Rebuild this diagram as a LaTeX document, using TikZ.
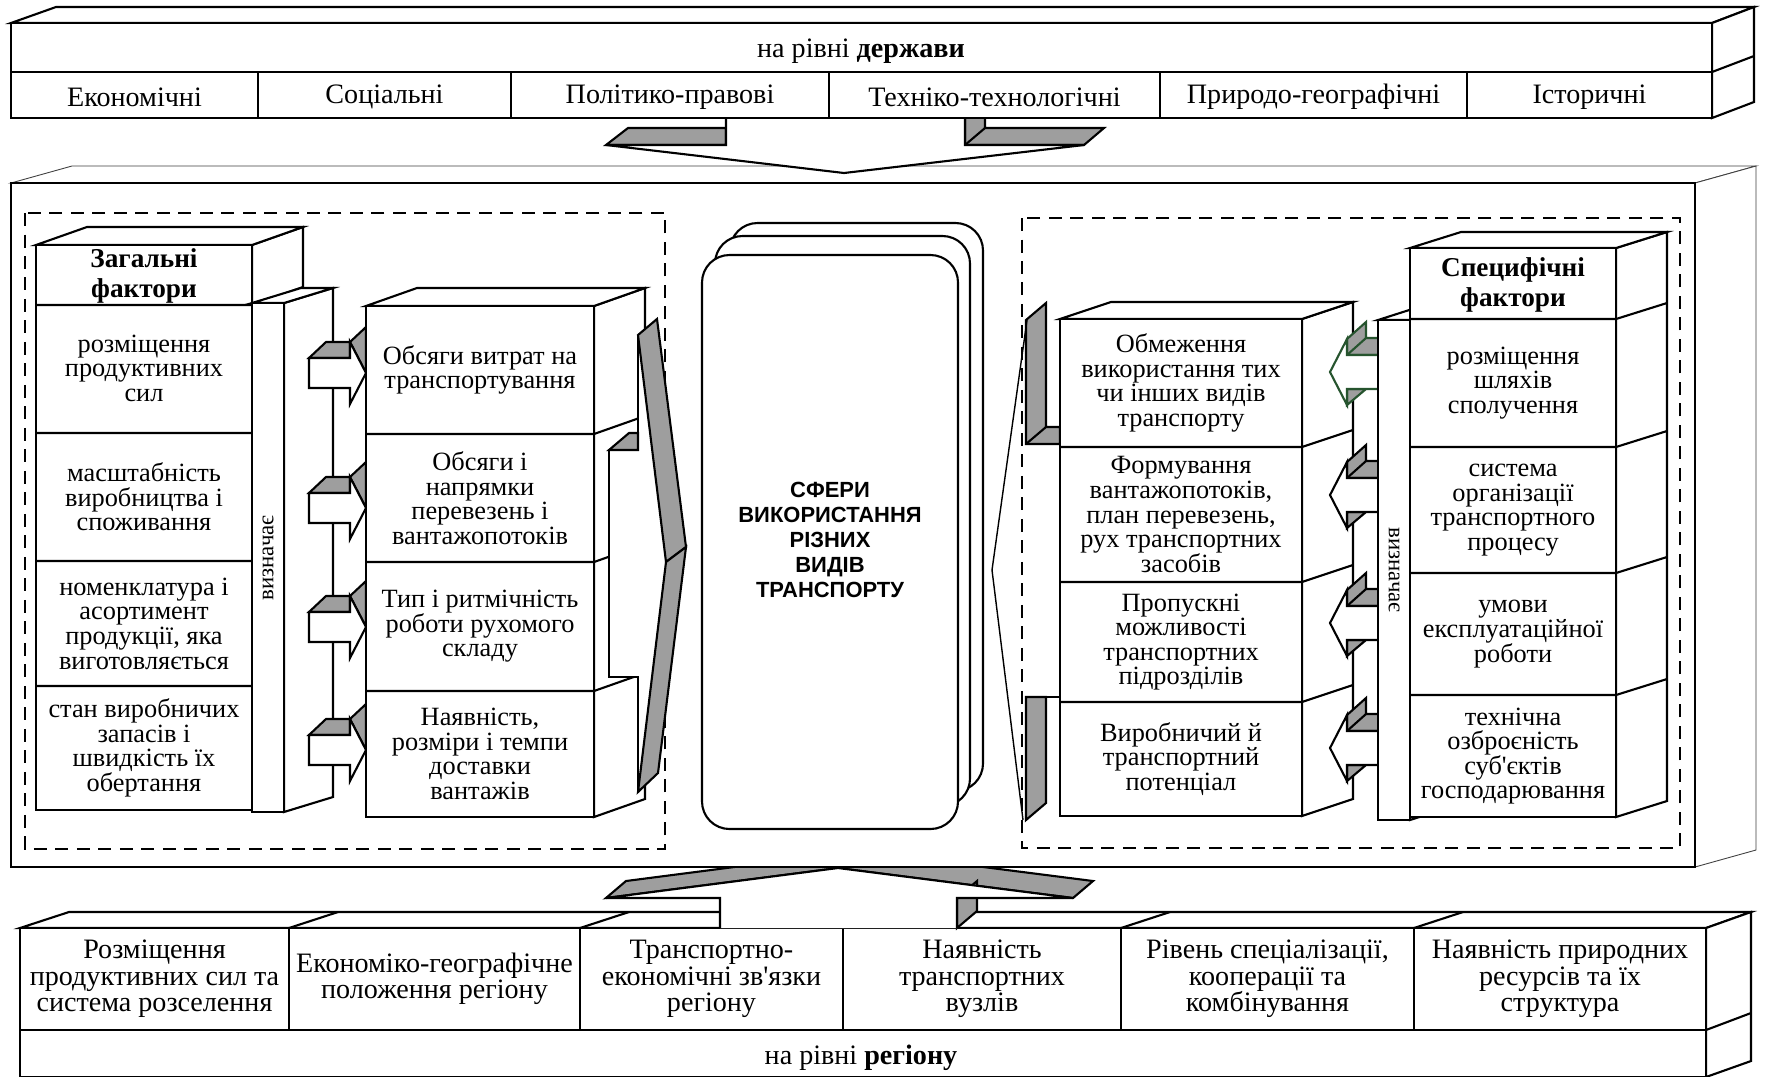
\documentclass[tikz,border=0pt]{standalone}
\usepackage{fontspec}
\setmainfont{Liberation Serif}
\newfontfamily\heavysans{Liberation Sans}
\usetikzlibrary{calc}
\definecolor{shade}{RGB}{158,158,158}
\definecolor{edgegreen}{RGB}{38,84,46}
\newcommand\cellfont{\fontsize{15}{14}\selectfont}
\newcommand\barfont{\fontsize{16}{15}\selectfont}
\newcommand\headfont{\fontsize{15.5}{17}\selectfont\bfseries}
\newcommand\corefont{\heavysans\bfseries\fontsize{12.5}{14.2}\selectfont}
\newcommand\sidefont{\fontsize{13}{13}\selectfont}
% 3D block: front rectangle (#1,#2)-(#3,#4), depth vector (#5,#6)
\newcommand\block[6]{%
  \filldraw[face] ({#3},{#2}) -- ({#3+#5},{#2+#6}) -- ({#3+#5},{#4+#6}) -- ({#3},{#4}) -- cycle;
  \filldraw[face] ({#1},{#2}) -- ({#1+#5},{#2+#6}) -- ({#3+#5},{#2+#6}) -- ({#3},{#2}) -- cycle;
  \filldraw[face] ({#1},{#2}) rectangle ({#3},{#4});
}
\begin{document}
\begin{tikzpicture}[x=0.02cm,y=-0.02cm,
  ln/.style={line width=1.2pt,line join=miter},
  face/.style={ln,fill=white},
  grey/.style={ln,fill=shade},
  thinface/.style={line width=0.5pt,draw=black!75,fill=white},
  cell/.style={align=center,font=\cellfont,inner sep=0pt},
  bar/.style={align=center,font=\barfont,inner sep=0pt},
  head/.style={align=center,font=\headfont,inner sep=0pt},
  dashbox/.style={ln,dash pattern=on 0.26cm off 0.17cm}]
\fill[white] (0,0) rectangle (1770,1076);
\clip (0,0) rectangle (1770,1076);

% ---------- regional level bar (bottom) ----------
\filldraw[face] (20,928) -- (69,912) -- (1751,912) -- (1706,928) -- cycle;
\filldraw[face] (1706,928) -- (1751,912) -- (1751,1061) -- (1706,1077) -- cycle;
\draw[ln] (1706,1030) -- (1751,1013);
\filldraw[face] (20,928) rectangle (1706,1077);
\draw[ln] (20,1030) -- (1706,1030);
\foreach \xx in {289,580,843,1121,1414} {
  \draw[ln] (\xx,928) -- (\xx,1030);
  \draw[ln] (\xx,928) -- ++(49,-16);
}
\node[bar] (r1) at (154.5,979) {Розміщення\\продуктивних сил та\\система розселення};
\node[bar] (r2) at (434.5,979) {Економіко-географічне\\положення регіону};
\node[bar] (r3) at (711.5,979) {Транспортно-\\економічні зв\textquotesingle язки\\регіону};
\node[bar] (r4) at (982,979) {Наявність\\транспортних\\вузлів};
\node[bar] (r5) at (1267.5,979) {Рівень спеціалізації,\\кооперації та\\комбінування};
\node[bar] (r6) at (1560,979) {Наявність природних\\ресурсів та їх\\структура};
\node[bar] (region) at (861,1058) {на рівні \textbf{регіону}};

% ---------- upward block arrow into the central frame ----------
\filldraw[grey] (606,898) -- (626,881) -- (858,851) -- (838,868) -- cycle;
\filldraw[grey] (838,868) -- (858,851) -- (1093,881) -- (1073,898) -- cycle;
\filldraw[grey] (957,898) -- (957,928) -- (977,911) -- (977,881) -- cycle;
\fill[white] (720,928) -- (720,898) -- (606,898) -- (838,868) -- (1073,898) -- (957,898) -- (957,928) -- cycle;
\draw[ln] (720,928) -- (720,898) -- (606,898) -- (838,868) -- (1073,898) -- (957,898) -- (957,928);

% ---------- central frame ----------
\filldraw[thinface] (11,183) -- (72,166) -- (1756,166) -- (1695,183) -- cycle;
\filldraw[thinface] (1695,183) -- (1756,166) -- (1756,850) -- (1695,867) -- cycle;
\filldraw[face] (11,183) rectangle (1695,867);

% ---------- downward block arrow from the state level ----------
\filldraw[grey] (606,145) -- (628,128) -- (726,128) -- (726,145) -- cycle;
\filldraw[grey] (965,110) -- (965,145) -- (1084,145) -- (1104,128) -- (985,128) -- (985,110) -- cycle;
\draw[ln] (965,145) -- (985,128);
\fill[white] (726,110) -- (726,145) -- (606,145) -- (844,173) -- (1084,145) -- (965,145) -- (965,110) -- cycle;
\draw[ln] (726,110) -- (726,145) -- (606,145) -- (844,173) -- (1084,145) -- (965,145) -- (965,110);

% ---------- state level bar (top) ----------
\filldraw[face] (11,23) -- (56,7) -- (1754,7) -- (1712,23) -- cycle;
\filldraw[face] (1712,23) -- (1754,7) -- (1754,102) -- (1712,118) -- cycle;
\draw[ln] (1712,72) -- (1754,56);
\filldraw[face] (11,23) rectangle (1712,118);
\draw[ln] (11,72) -- (1712,72);
\foreach \xx in {258,511,829,1160,1467} \draw[ln] (\xx,72) -- (\xx,118);
\node[bar] (state) at (861,51) {на рівні \textbf{держави}};
\node[bar] (s1) at (134.5,97) {Економічні};
\node[bar] (s2) at (384.5,97) {Соціальні};
\node[bar] (s3) at (670,97) {Політико-правові};
\node[bar] (s4) at (994.5,97) {Техніко-технологічні};
\node[bar] (s5) at (1313.5,97) {Природо-географічні};
\node[bar] (s6) at (1589.5,97) {Історичні};

% ---------- dashed groups ----------
\draw[dashbox] (25,213) rectangle (665,849);
\draw[dashbox] (1022,218) rectangle (1680,848);

% ---------- general factors ----------
\block{36}{245}{252}{810}{51}{-18}
\foreach \yy in {305,433,561,686} \draw[ln] (36,\yy) -- (252,\yy) -- ++(51,-18);
\node[head] (gen) at (144,276) {Загальні\\фактори};
\node[cell] (g1) at (144,368) {розміщення\\продуктивних\\сил};
\node[cell] (g2) at (144,497) {масштабність\\виробництва і\\споживання};
\node[cell] (g3) at (144,623.5) {номенклатура і\\асортимент\\продукції, яка\\виготовляється};
\node[cell] (g4) at (144,748) {стан виробничих\\запасів і\\швидкість їх\\обертання};

\block{252}{303}{284}{812}{49}{-15}
\node[font=\sidefont,rotate=90,inner sep=0pt] (defl) at (268,558) {визначає};

\foreach \c in {373,508,627,750} {
  \filldraw[grey] (309,\c-15) -- (326,\c-31) -- (350,\c-31) -- (350,\c-15) -- cycle;
  \filldraw[grey] (350,\c-31) -- (366,\c-46) -- (366,\c) -- cycle;
  \filldraw[face] (309,\c-15) -- (350,\c-15) -- (350,\c-31) -- (366,\c) -- (350,\c+31) -- (350,\c+15) -- (309,\c+15) -- cycle;
}

% ---------- outcomes of general factors ----------
\block{366}{306}{594}{817}{51}{-18}
\foreach \yy in {434,562,691} \draw[ln] (366,\yy) -- (594,\yy) -- ++(51,-18);
\node[cell] (m1) at (480,370) {Обсяги витрат на\\транспортування};
\node[cell] (m2) at (480,498) {Обсяги і\\напрямки\\перевезень і\\вантажопотоків};
\node[cell] (m3) at (480,626.5) {Тип і ритмічність\\роботи рухомого\\складу};
\node[cell] (m4) at (480,754) {Наявність,\\розміри і темпи\\доставки\\вантажів};

% chevron towards the centre
\fill[white] (638,335) -- (666,562) -- (638,792) -- (638,677) -- (609,677) -- (609,450) -- (638,450) -- cycle;
\draw[ln] (638,335) -- (638,450) -- (609,450) -- (609,677) -- (638,677) -- (638,792);
\filldraw[grey] (609,450) -- (629,433) -- (638,433) -- (638,450) -- cycle;
\filldraw[grey] (638,335) -- (657,319) -- (686,547) -- (666,562) -- cycle;
\filldraw[grey] (666,562) -- (686,547) -- (658,773) -- (638,792) -- cycle;

% ---------- central stack ----------
\filldraw[face,rounded corners=0.55cm] (730,223) rectangle (983,791);
\filldraw[face,rounded corners=0.55cm] (715,236) rectangle (970,806);
\filldraw[face,rounded corners=0.55cm] (702,255) rectangle (958,829);
\node[align=center,font=\corefont,inner sep=0pt] (core) at (830,540) {СФЕРИ\\ВИКОРИСТАННЯ\\РІЗНИХ\\ВИДІВ\\ТРАНСПОРТУ};

% chevron from the right group
\filldraw[grey] (1026,320) -- (1046,303) -- (1046,427) -- (1060,427) -- (1060,444) -- (1026,444) -- cycle;
\draw[ln] (1026,444) -- (1046,427);
\filldraw[grey] (1026,697) -- (1046,697) -- (1046,803) -- (1026,820) -- cycle;
\draw[ln] (1026,697) -- (1060,697);
\draw[line width=0.8pt] (1027,320) -- (992,570) -- (1023,820);

% ---------- outcomes of specific factors ----------
\block{1060}{319}{1302}{816}{51}{-17}
\foreach \yy in {447,582,702} \draw[ln] (1060,\yy) -- (1302,\yy) -- ++(51,-17);
\node[cell] (n1) at (1181,383) {Обмеження\\використання тих\\чи інших видів\\транспорту};
\node[cell] (n2) at (1181,514.5) {Формування\\вантажопотоків,\\план перевезень,\\рух транспортних\\засобів};
\node[cell] (n3) at (1181,642) {Пропускні\\можливості\\транспортних\\підрозділів};
\node[cell] (n4) at (1181,759) {Виробничий й\\транспортний\\потенціал};

\foreach \c/\col in {372/edgegreen,495/black,623/black,748/black} {
  \filldraw[grey,draw=\col] (1347,\c-33) -- (1366,\c-50) -- (1366,\c-34) -- (1390,\c-34) -- (1390,\c-17) -- (1347,\c-17) -- cycle;
  \draw[ln,draw=\col] (1347,\c-17) -- (1366,\c-34);
  \filldraw[grey,draw=\col] (1347,\c+17) -- (1347,\c+33) -- (1366,\c+17) -- cycle;
  \filldraw[face,draw=\col] (1330,\c) -- (1347,\c-33) -- (1347,\c-17) -- (1390,\c-17) -- (1390,\c+17) -- (1347,\c+17) -- (1347,\c+33) -- cycle;
}

\block{1378}{320}{1410}{820}{50}{-16}
\node[font=\sidefont,rotate=-90,inner sep=0pt] (defr) at (1394,570) {визначає};

% ---------- specific factors ----------
\block{1410}{248}{1616}{817}{51}{-16}
\foreach \yy in {319,447,573,695} \draw[ln] (1410,\yy) -- (1616,\yy) -- ++(51,-16);
\node[head] (spec) at (1513,285) {Специфічні\\фактори};
\node[cell] (p1) at (1513,383) {розміщення\\шляхів\\сполучення};
\node[cell] (p2) at (1513,510) {система\\організації\\транспортного\\процесу};
\node[cell] (p3) at (1513,634) {умови\\експлуатаційної\\роботи};
\node[cell] (p4) at (1513,756) {технічна\\озброєність\\суб\textquotesingle єктів\\господарювання};
\end{tikzpicture}
\end{document}
